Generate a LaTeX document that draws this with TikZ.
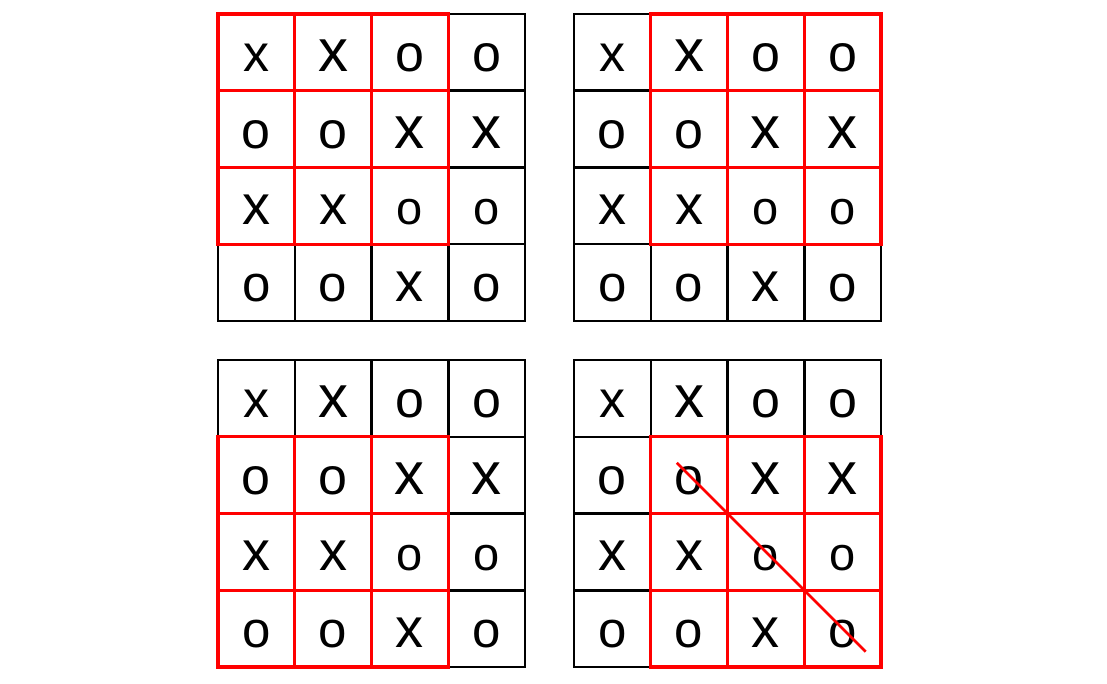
\documentclass[tikz,border=0pt]{standalone}
\usepackage{fontspec}
\setsansfont{Liberation Sans}
\usetikzlibrary{calc}

\tikzset{
  cell/.style={draw=black, line width=2.5pt, minimum size=76.75pt, inner sep=0pt,
    outer sep=0pt, text height=38pt, text depth=0pt},
  redcell/.style={draw=red, line width=3.2pt},
  diag/.style={red, line width=2.8pt}
}

\begin{document}
\begin{tikzpicture}[x=1pt, y=-1pt]
  \useasboundingbox (0,0) rectangle (1107,684);
  % four boards, each with its 3x3 window in red
  \foreach \b/\ox/\oy/\rr/\cc in {a/218/14/0/0, b/574/14/0/1, c/218/360/1/0, d/574/360/1/1} {
    \foreach \r/\c/\t/\s in {0/0/x/52, 0/1/x/60, 0/2/o/52, 0/3/o/52,
                             1/0/o/52, 1/1/o/52, 1/2/x/60, 1/3/x/60,
                             2/0/x/56, 2/1/x/56, 2/2/o/47, 2/3/o/47,
                             3/0/o/51, 3/1/o/51, 3/2/x/56, 3/3/o/51}
      \node[cell, font={\sffamily\fontsize{\s}{\s}\selectfont}] (\b-\r-\c)
        at ({\ox+(\c+0.5)*76.75}, {\oy+(\r+0.5)*76.75}) {\t};
    \foreach \i in {0,1,2} {
      \foreach \j in {0,1,2} {
        \pgfmathtruncatemacro{\r}{\rr+\i}
        \pgfmathtruncatemacro{\c}{\cc+\j}
        \draw[redcell] (\b-\r-\c.north west) rectangle (\b-\r-\c.south east);
      }
    }
  }
  \draw[diag] ($(d-1-1)!-0.08!(d-3-3)$) -- ($(d-3-3)!-0.15!(d-1-1)$);
\end{tikzpicture}
\end{document}
